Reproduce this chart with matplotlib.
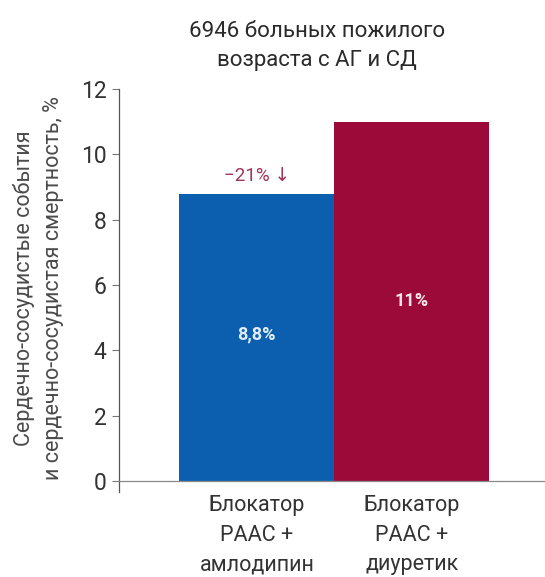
import matplotlib
matplotlib.use("Agg")
import matplotlib.pyplot as plt

# Data
categories = ["Блокатор\nРААС +\nамлодипин", "Блокатор\nРААС +\nдиуретик"]
values = [8.8, 11.0]
value_labels = ["8,8%", "11%"]
bar_colors = ["#0b5fae", "#9c0a3a"]
y_ticks = [0, 2, 4, 6, 8, 10, 12]
title = "6946 больных пожилого\nвозраста с АГ и СД"
y_label = "Сердечно-сосудистые события\nи сердечно-сосудистая смертность, %"
reduction_label = "−21% ↓"

plt.rcParams["font.family"] = ["Roboto", "DejaVu Sans"]
text_color = "#333333"

fig = plt.figure(figsize=(5.45, 5.77), dpi=100)
# axes box in pixels: left 119, right 545, bottom spine (y=0) at 481, top (12) at 89
W, H = 545, 577
ymin = -0.34
ax_bottom_px = 481 + 0.34 * (481 - 89) / 12
ax = fig.add_axes([119 / W, 1 - ax_bottom_px / H, (545 - 119) / W, (ax_bottom_px - 89) / H])

x = [0, 1]
ax.bar(x, values, width=1.0, color=bar_colors, align="center", zorder=2)

ax.set_xlim(-0.89, 1.86)
ax.set_ylim(ymin, 12)

ax.spines["top"].set_visible(False)
ax.spines["right"].set_visible(False)
ax.spines["bottom"].set_position(("data", 0))
ax.spines["bottom"].set_color("#8a8a8a")
ax.spines["left"].set_color("#555555")
ax.spines["left"].set_linewidth(0.9)
ax.spines["bottom"].set_linewidth(0.9)

ax.set_yticks(y_ticks)
ax.set_yticklabels([str(t) for t in y_ticks], fontsize=16.5, color=text_color)
ax.tick_params(axis="y", length=5, width=0.8, color="#777777", pad=4)

ax.set_xticks(x)
ax.set_xticklabels(categories, fontsize=15.5, color=text_color, linespacing=1.55)
ax.tick_params(axis="x", length=0, pad=10)

# value labels inside bars
ax.text(0, 4.5, value_labels[0], ha="center", va="center", color="#e3edf8",
        fontsize=13, fontweight="bold", zorder=3)
ax.text(1, 5.5, value_labels[1], ha="center", va="center", color="#f6e6ec",
        fontsize=13, fontweight="bold", zorder=3)

# relative reduction annotation above the first bar
ax.text(0, values[0] + 0.55, reduction_label, ha="center", va="center",
        color="#9c3556", fontsize=13.5, zorder=3)

fig.text(317 / W, 1 - 46 / H, title, ha="center", va="center", fontsize=16,
         color="#2a2a2a", linespacing=1.45)

fig.text(39 / W, 1 - 288 / H, y_label, ha="center", va="center", rotation=90,
         fontsize=15.5, color="#4a4a4a", linespacing=1.5)

fig.savefig("out.png", dpi=100)
